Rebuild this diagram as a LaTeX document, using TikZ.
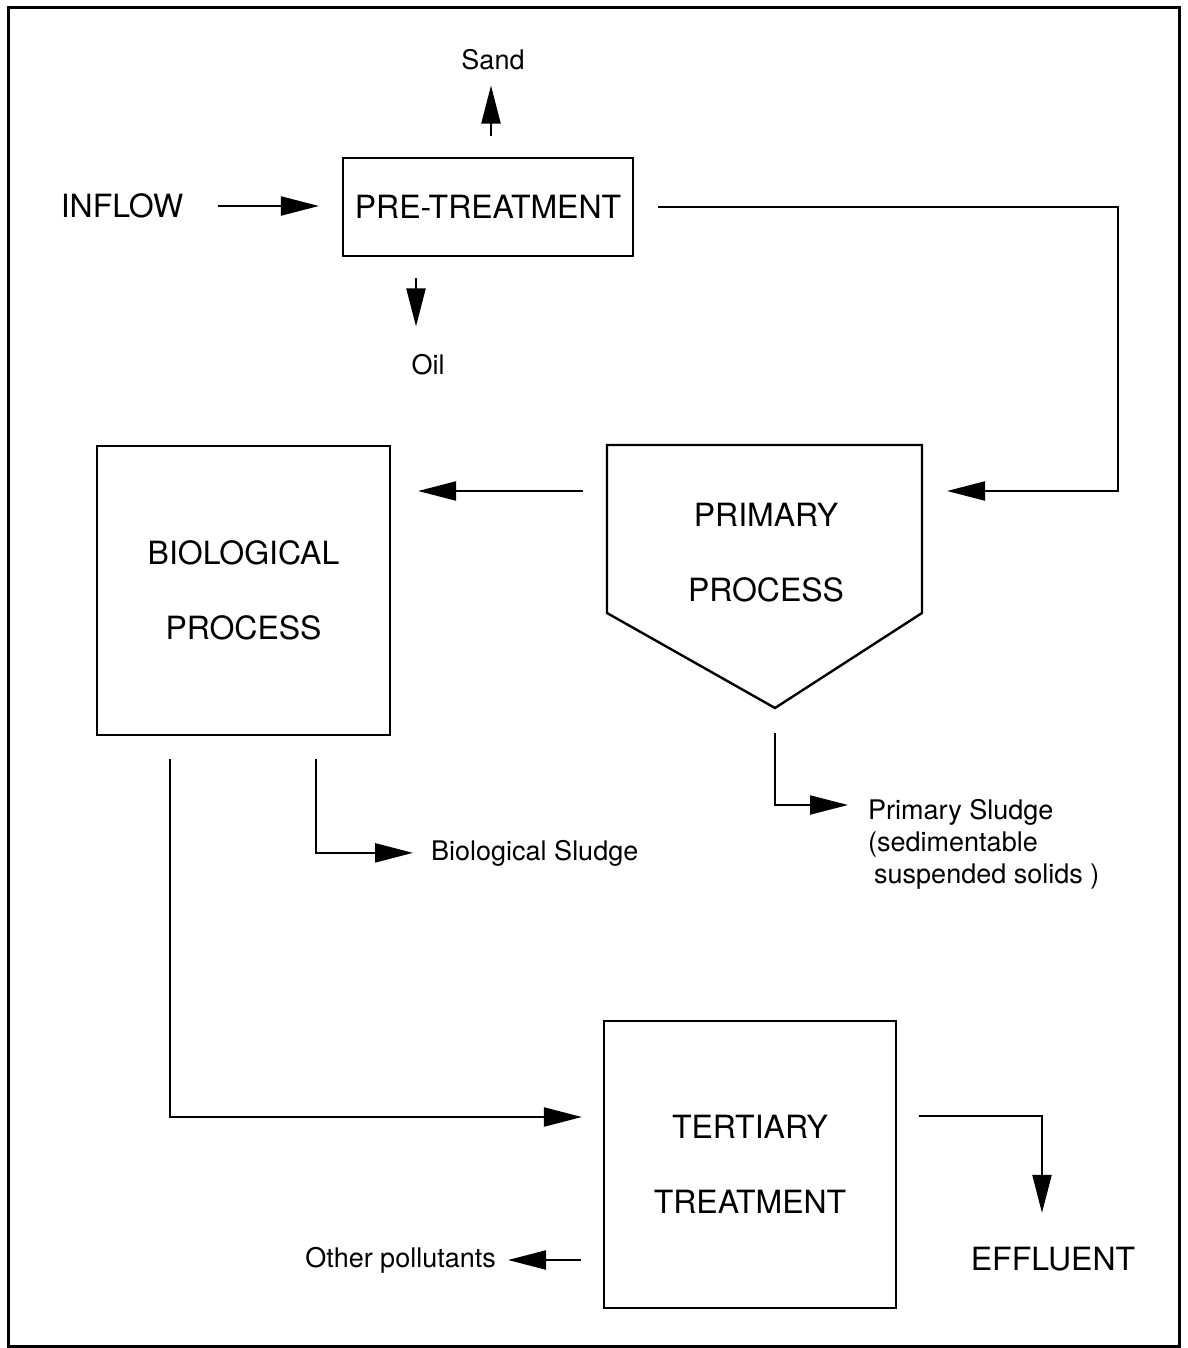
\documentclass[tikz,border=0pt]{standalone}
\usepackage{fontspec}
\setmainfont{TeX Gyre Heros}
\usetikzlibrary{arrows.meta}
\begin{document}
\begin{tikzpicture}[x=1pt,y=-1pt,
  big/.style={font=\fontsize{32pt}{38pt}\selectfont, inner sep=0pt, align=center},
  small/.style={font=\fontsize{27pt}{32pt}\selectfont, inner sep=0pt},
  unit/.style={draw, line width=2.2pt, inner sep=0pt, align=center,
               font=\fontsize{32pt}{38pt}\selectfont},
  flow/.style={line width=2.2pt, -{Triangle[length=38pt,width=19pt]}},
]
\useasboundingbox (0,0) rectangle (1187,1348);
% outer frame
\draw[line width=3pt] (8,8) rectangle (1179,1346);

% process units
\node[unit, minimum width=290pt, minimum height=98pt] (pre) at (488,207) {PRE-TREATMENT};
\node[unit, minimum width=293pt, minimum height=289pt] (bio) at (243.5,590.5) {BIOLOGICAL\\[37pt]PROCESS};
\node[unit, minimum width=292pt, minimum height=287pt] (tert) at (750,1164.5) {TERTIARY\\[37pt]TREATMENT};

% primary settler (pentagon outline)
\draw[line width=2.4pt, line join=miter] (607,445) -- (922,445) -- (922,613) -- (775,708) -- (607,613) -- cycle;
\node[big] (prim) at (766,553) {PRIMARY\\[37pt]PROCESS};
\coordinate (ptip) at (775,708);
\coordinate (pin) at (922,491);
\coordinate (pout) at (607,491);

% labels
\node[big] (inflow) at (122,206) {INFLOW};
\node[small] (sand) at (493,60) {Sand};
\node[small] (oil) at (428,365) {Oil};
\node[small, anchor=base west] (bsl) at (431,860) {Biological Sludge};
\node[small, anchor=north west, align=left] (psl) at (868,799)
  {Primary Sludge\\(sedimentable\\\hspace*{6pt}suspended solids )};
\node[small, anchor=east] (oth) at (496,1260) {Other pollutants};
\node[big] (eff) at (1053,1259) {EFFLUENT};

% connectors
\draw[flow, shorten <=35pt, shorten >=23pt] (inflow.east) -- (pre.west |- inflow.east);
\draw[flow, shorten <=21pt, shorten >=15pt] ([xshift=3pt]pre.north) -- ([xshift=3pt]pre.north |- sand.south);
\draw[flow, shorten <=21pt, shorten >=28pt] ([xshift=-72pt]pre.south) -- ([xshift=-72pt]pre.south |- oil.north);
\draw[flow, shorten <=24pt, shorten >=25pt] (pre.east) -| ([xshift=196pt]pin) -- (pin);
\draw[flow, shorten <=24pt, shorten >=27pt] (pout) -- (pout -| bio.east);
\draw[flow, shorten <=25pt] (ptip) |- ([xshift=-20pt,yshift=-6pt]psl.north west);
\draw[flow, shorten <=23pt, shorten >=18pt] ([xshift=220pt]bio.south west) |- (bsl.west);
\draw[flow, shorten <=23pt, shorten >=21pt] ([xshift=74pt]bio.south west) |- ([yshift=47.5pt]tert.west);
\draw[flow, shorten <=22pt, shorten >=34pt] ([yshift=48.5pt]tert.east) -| ([xshift=-11pt]eff.north);
\draw[flow, shorten <=22pt, shorten >=12pt] (tert.west |- oth.east) -- (oth.east);
\end{tikzpicture}
\end{document}
